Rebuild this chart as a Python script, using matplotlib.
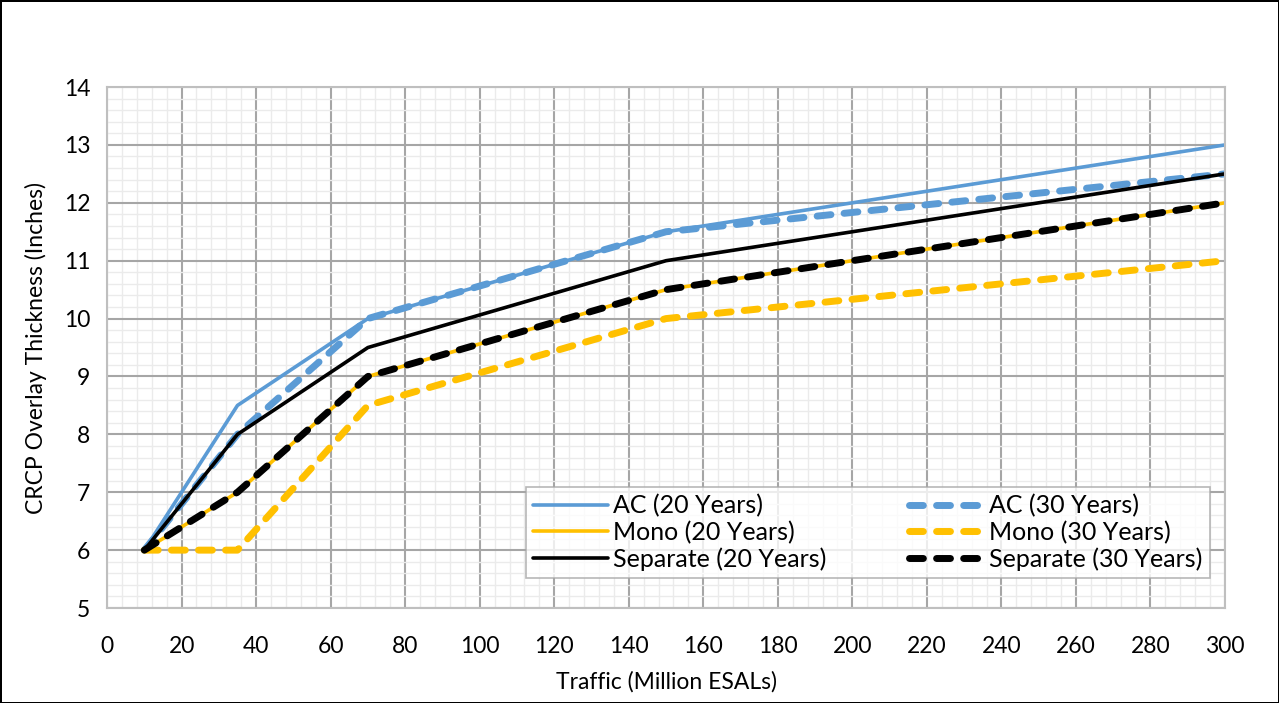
import matplotlib.pyplot as plt
from matplotlib.ticker import MultipleLocator

# Traffic (million ESALs) and overlay thickness (inches)
traffic = [10, 35, 70, 150, 300]
ac_20 = [6, 8.5, 10, 11.5, 13]
ac_30 = [6, 8, 10, 11.5, 12.5]
mono_20 = [6, 7, 9, 10.5, 12]
mono_30 = [6, 6, 8.5, 10, 11]
sep_20 = [6, 8, 9.5, 11, 12.5]
sep_30 = [6, 7, 9, 10.5, 12]

blue = '#5B9BD5'
gold = '#FFC000'

plt.rcParams['font.family'] = ['Lato', 'DejaVu Sans']

fig = plt.figure(figsize=(12.79, 7.03), dpi=100, linewidth=2, edgecolor='black')
ax = fig.add_axes([0.0837, 0.1351, 0.8741, 0.7411])

solid = dict(lw=2.6, solid_capstyle='round', solid_joinstyle='round')
dash = dict(lw=5, dashes=(2.0, 1.9), dash_capstyle='round', dash_joinstyle='round')

l1, = ax.plot(traffic, ac_20, color=blue, label='AC (20 Years)', **solid)
l2, = ax.plot(traffic, ac_30, color=blue, label='AC (30 Years)', **dash)
l3, = ax.plot(traffic, mono_20, color=gold, label='Mono (20 Years)', **solid)
l4, = ax.plot(traffic, mono_30, color=gold, label='Mono (30 Years)', **dash)
l5, = ax.plot(traffic, sep_20, color='black', label='Separate (20 Years)', **solid)
l6, = ax.plot(traffic, sep_30, color='black', label='Separate (30 Years)', **dash)

ax.set_xlim(0, 300)
ax.set_ylim(5, 14)
ax.xaxis.set_major_locator(MultipleLocator(20))
ax.xaxis.set_minor_locator(MultipleLocator(4))
ax.yaxis.set_major_locator(MultipleLocator(1))
ax.yaxis.set_minor_locator(MultipleLocator(0.2))
ax.grid(which='major', color='#A6A6A6', lw=1.5)
ax.grid(which='minor', color='#EBEBEB', lw=1)
ax.set_axisbelow(True)
for s in ax.spines.values():
    s.set_color('#BFBFBF')
    s.set_linewidth(1.5)
ax.tick_params(which='both', length=0, labelsize=16.5, colors='black')
ax.tick_params(axis='x', pad=20)
ax.tick_params(axis='y', pad=12)

ax.set_xlabel('Traffic (Million ESALs)', fontsize=16.5, labelpad=10)
ax.set_ylabel('CRCP Overlay Thickness (Inches)', fontsize=16.5, labelpad=12)

leg = ax.legend(handles=[l1, l3, l5, l2, l4, l6], ncol=2, loc='lower right',
                bbox_to_anchor=(0.9866, 0.0576), borderaxespad=0, fontsize=18,
                frameon=True, fancybox=False, edgecolor='#A6A6A6', handlelength=3.0,
                columnspacing=3.3, labelspacing=0.12, borderpad=0.3, handletextpad=0.2)
leg.get_frame().set_linewidth(1.2)

fig.savefig('out.png', dpi=100)
